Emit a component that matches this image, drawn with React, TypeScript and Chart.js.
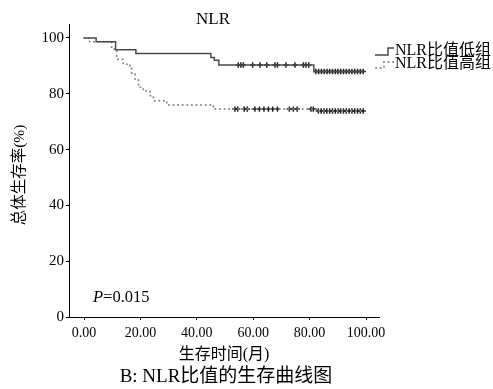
import React, { useEffect, useRef } from "react";
import { Chart, registerables } from "chart.js";

Chart.register(...registerables);

// Kaplan-Meier curve: NLR low group (solid)
const lowTimes = [0, 4.3, 11.2, 18.4, 45.0, 46.2, 47.8, 81.5, 99.3];
const lowSurv = [100, 98.6, 95.8, 94.4, 93.0, 92.0, 90.3, 88.0, 88.0];
// NLR high group (dotted)
const highTimes = [0, 2.0, 9.8, 11.6, 13.9, 16.3, 16.9, 18.1, 19.3, 21.0, 23.4, 24.6, 29.3, 29.9, 45.9, 82.5, 99.3];
const highSurv = [100, 98.6, 96.0, 92.4, 90.6, 89.4, 87.0, 85.2, 82.3, 81.0, 79.3, 77.5, 76.9, 76.0, 74.5, 73.8, 73.8];
// censored observations (months)
const lowCensor = [54.7, 55.6, 56.5, 59.8, 62.4, 64.8, 67.7, 68.6, 71.6, 74.8, 77.8, 78.7, 79.7,
  82.2, 83.2, 84.2, 85.2, 86.2, 87.1, 88.1, 89.1, 90.0, 91.0, 92.0, 93.0, 94.0, 95.0, 96.0, 97.0, 98.0, 99.0];
const highCensor = [53.5, 54.5, 56.8, 57.9, 60.6, 62.2, 63.8, 65.4, 66.9, 68.6, 72.8, 74.2, 75.6, 80.5, 81.3,
  83.1, 84.1, 85.1, 86.1, 87.1, 88.1, 89.1, 90.1, 91.0, 92.0, 93.0, 94.0, 95.0, 96.0, 97.0, 98.0, 99.0];

const xTicks = [0, 20, 40, 60, 80, 100];
const yTicks = [0, 20, 40, 60, 80, 100];

const titleText = "NLR";
const xTitle = "生存时间(月)";
const yTitle = "总体生存率(%)";
const caption = "B: NLR比值的生存曲线图";
const legendLabels = ["NLR比值低组", "NLR比值高组"];
const pLabel = "P";
const pValue = "=0.015";

const FONT = "'Liberation Serif', 'Noto Sans CJK SC', serif";

function survAt(times: number[], surv: number[], t: number) {
  let v = surv[0];
  for (let i = 0; i < times.length; i++) if (times[i] <= t) v = surv[i];
  return v;
}

const textPlugin = {
  id: "extraText",
  afterDraw(chart: any) {
    const ctx = chart.ctx as CanvasRenderingContext2D;
    ctx.save();
    ctx.fillStyle = "#000";
    ctx.textAlign = "center";
    ctx.textBaseline = "middle";
    ctx.font = `17px ${FONT}`;
    ctx.fillText(titleText, 213, 20);
    ctx.font = `16px ${FONT}`;
    ctx.fillText(xTitle, 224, 355);
    ctx.font = `19px ${FONT}`;
    ctx.fillText(caption, 226, 377);
    // y title rotated
    ctx.save();
    ctx.translate(20, 175);
    ctx.rotate(-Math.PI / 2);
    ctx.font = `15.5px ${FONT}`;
    ctx.fillText(yTitle, 0, 0);
    ctx.restore();
    // P value
    ctx.textAlign = "left";
    ctx.font = `italic 16.5px ${FONT}`;
    ctx.fillText(pLabel, 93, 298);
    const pw = ctx.measureText(pLabel).width;
    ctx.font = `16.5px ${FONT}`;
    ctx.fillText(pValue, 93 + pw, 298);
    // legend
    ctx.font = `16px ${FONT}`;
    ctx.fillText(legendLabels[0], 395, 51);
    ctx.fillText(legendLabels[1], 395, 64);
    ctx.strokeStyle = "#4a4a4a";
    ctx.lineWidth = 1.5;
    ctx.beginPath();
    ctx.moveTo(375, 55);
    ctx.lineTo(388, 55);
    ctx.lineTo(388, 48);
    ctx.lineTo(394, 48);
    ctx.stroke();
    ctx.strokeStyle = "#888";
    ctx.lineWidth = 2;
    ctx.lineCap = "round";
    ctx.setLineDash([0.1, 4.5]);
    ctx.beginPath();
    ctx.moveTo(376, 68);
    ctx.lineTo(384, 68);
    ctx.lineTo(384, 62);
    ctx.lineTo(394, 62);
    ctx.stroke();
    ctx.restore();
  },
};

export default function App() {
  const ref = useRef<HTMLCanvasElement>(null);
  useEffect(() => {
    const canvas = ref.current!;
    const chart = new Chart(canvas, {
      type: "line",
      data: {
        datasets: [
          {
            label: legendLabels[0],
            data: lowTimes.map((t, i) => ({ x: t, y: lowSurv[i] })),
            stepped: true,
            borderColor: "#4a4a4a",
            borderWidth: 1.5,
            pointRadius: 0,
            fill: false,
          },
          {
            label: legendLabels[1],
            data: highTimes.map((t, i) => ({ x: t, y: highSurv[i] })),
            stepped: true,
            borderColor: "#888",
            borderWidth: 2,
            borderDash: [0.1, 4.5],
            borderCapStyle: "round",
            pointRadius: 0,
            fill: false,
          },
          {
            label: "lowCensor",
            data: lowCensor.map((t) => ({ x: t, y: survAt(lowTimes, lowSurv, t) })),
            showLine: false,
            pointStyle: "cross",
            pointRadius: 2.7,
            borderColor: "#222",
            borderWidth: 1.5,
          },
          {
            label: "highCensor",
            data: highCensor.map((t) => ({ x: t, y: survAt(highTimes, highSurv, t) })),
            showLine: false,
            pointStyle: "cross",
            pointRadius: 2.7,
            borderColor: "#222",
            borderWidth: 1.5,
          },
        ],
      },
      options: {
        animation: false,
        responsive: false,
        devicePixelRatio: 1,
        layout: { padding: { left: 0, top: 24, right: 114, bottom: 0 } },
        plugins: { legend: { display: false }, tooltip: { enabled: false }, title: { display: false } },
        scales: {
          x: {
            type: "linear",
            min: -5.32,
            max: 104.6,
            afterFit: (s: any) => { s.height = 72; },
            afterBuildTicks: (s: any) => { s.ticks = xTicks.map((v) => ({ value: v })); },
            border: { display: true, color: "#000", width: 1 },
            grid: { display: true, drawOnChartArea: false, drawTicks: true, tickLength: 3, color: "#000" },
            ticks: {
              color: "#000",
              font: { family: FONT, size: 14 },
              padding: 5,
              maxRotation: 0,
              callback: (v: any) => Number(v).toFixed(2),
            },
          },
          y: {
            type: "linear",
            min: 0,
            max: 105,
            afterFit: (s: any) => { s.width = 69; },
            afterBuildTicks: (s: any) => { s.ticks = yTicks.map((v) => ({ value: v })); },
            border: { display: true, color: "#000", width: 1 },
            grid: { display: true, drawOnChartArea: false, drawTicks: true, tickLength: 3, color: "#000" },
            ticks: {
              color: "#000",
              font: { family: FONT, size: 15 },
              padding: 2,
              callback: (v: any) => String(v),
            },
          },
        },
      },
      plugins: [textPlugin],
    } as any);
    return () => chart.destroy();
  }, []);
  return (
    <div style={{ position: "fixed", left: 0, top: 0, width: 493, height: 389, background: "#fff" }}>
      <canvas ref={ref} width={493} height={389} style={{ width: 493, height: 389, display: "block" }} />
    </div>
  );
}
